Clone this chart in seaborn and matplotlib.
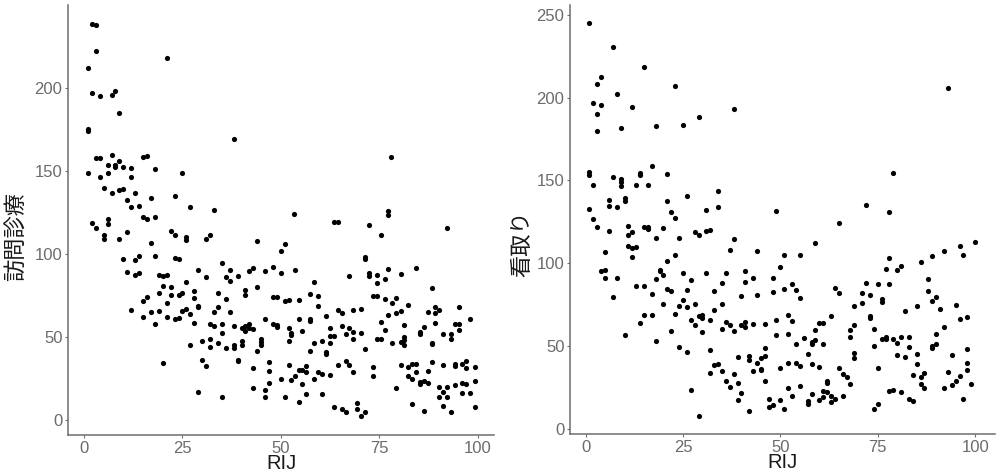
import matplotlib
matplotlib.use("Agg")
import matplotlib.pyplot as plt
import seaborn as sns
import pandas as pd

# left panel: RIJ vs 訪問診療
rij_visit = [
    2, 3, 3, 1, 21, 2, 4, 7, 8, 9, 1, 1, 38, 3, 4, 7, 9, 6, 8, 8, 10, 12, 15, 16, 18, 25, 1, 6, 4, 12,
    5, 7, 9, 10, 11, 13, 17, 23, 12, 14, 27, 33, 15, 16, 18, 2, 6, 6, 3,
    78, 53.4, 63.4, 64.4, 72.3, 77.3, 77.3, 92.2,
    5, 5, 9, 11, 17, 10, 13, 14, 18, 11, 13, 14, 19, 20, 21, 12, 15, 16, 15, 17, 18, 19, 19, 20, 21, 21, 20,
    22, 23, 23, 24, 22, 22, 24, 25, 23, 24, 25, 26, 26, 26, 26, 27, 27, 28, 28, 28, 29, 29, 29, 29, 30, 30,
    31, 32, 31, 31, 32, 32, 32, 33, 33, 34, 34, 34, 35, 35, 35, 35, 36, 36, 36, 37, 37, 37, 38, 38, 38, 39,
    39, 39, 40, 40, 40, 41, 41, 41, 41, 42, 42, 42, 43, 43, 43, 43, 44, 44, 44, 45, 45, 45, 46, 46, 46, 46,
    47, 47, 47, 48, 48, 48, 49, 49, 49, 50, 50, 50, 51, 51, 52, 51, 52, 52, 52,
    75.4, 53.6, 58.5, 54.5, 57.4, 59.5, 59.5, 67.3, 71.3, 71.3, 72.3, 72.3, 74.4, 74.4, 73.4, 74.4, 76.4,
    77.3, 80.4, 84.3, 76.4, 79.3, 78.3, 79.3, 80.4, 77.3, 82.3, 88.3, 87.3, 89.2, 90.2, 89.2, 95.3, 98.1,
    89.2, 86.3, 85.3, 85.3, 81.3, 81.3, 81.3, 80.4, 81.3, 78.3, 74.4, 75.4, 75.4, 76.4, 71.3, 70.3, 68.4,
    64.5, 65.4, 61.4, 65.4, 66.4, 67.3, 68.4, 68.4, 70.3, 62.4, 62.4, 63.5, 62.4, 60.4, 61.4, 61.4, 58.5,
    57.4, 57.4, 57.4, 55.4, 54.5, 52.5, 52.5, 52.5, 53.6, 54.5, 55.4, 56.4, 56.4, 55.4, 54.5, 56.4, 58.5,
    59.5, 60.4, 60.4, 62.4, 64.5, 66.4, 67.3, 68.4, 63.5, 65.4, 66.4, 69.4, 69.4, 70.3, 71.3, 73.4, 73.4,
    79.3, 80.4, 82.3, 82.3, 83.3, 84.3, 83.3, 84.3, 83.3, 85.3, 85.3, 86.3, 87.3, 86.3, 87.3, 88.3, 90.2,
    91.2, 92.2, 90.2, 92.2, 91.2, 91.2, 93.2, 94.2, 94.2, 94.2, 93.2, 93.2, 91.2, 95.3, 94.2, 95.3, 96.1,
    96.1, 96.1, 97.1, 97.1, 97.1, 98.1, 99.2, 99.2, 99.2, 88.3, 88.3,
]
visit = [
    238.6, 237.8, 222.5, 211.9, 218.5, 197.0, 195.4, 196.2, 198.2, 185.3, 175.7, 174.3, 169.7, 158.0,
    158.2, 159.8, 156.4, 154.0, 154.0, 152.8, 152.6, 152.0, 158.4, 159.2, 151.6, 148.8, 149.0, 149.0,
    146.4, 146.4, 139.8, 136.7, 138.7, 139.4, 132.7, 136.7, 133.9, 134.9, 128.3, 129.3, 128.3, 126.7,
    122.3, 121.3, 122.3, 118.9, 121.1, 118.3, 115.5,
    158.4, 124.5, 119.3, 119.3, 117.5, 126.3, 123.7, 115.5,
    111.4, 109.4, 109.0, 113.3, 106.6, 97.0, 96.6, 99.0, 99.2, 89.0, 87.2, 88.4, 87.3, 86.7, 87.7, 66.5,
    71.7, 74.5, 62.4, 65.3, 58.2, 76.9, 65.7, 81.1, 70.3, 62.2, 34.3,
    113.9, 111.8, 97.8, 97.0, 80.5, 75.5, 75.5, 76.5, 61.0, 61.8, 65.5, 66.9, 83.5, 110.4, 108.4, 63.7,
    45.0, 77.9, 73.7, 58.8, 90.5, 68.9, 68.0, 17.0, 47.8, 36.5,
    109.0, 111.6, 86.0, 32.5, 58.2, 48.6, 44.2, 64.9, 56.6, 76.7, 67.9, 46.2, 94.8, 58.0, 52.6, 13.9,
    73.1, 43.2, 86.1, 90.5, 83.9, 65.1, 57.0, 45.0, 43.4, 86.7,
    36.5, 35.7, 55.4, 47.6, 45.4, 78.7, 75.5, 56.6, 54.0, 89.8, 57.8, 55.8, 91.4, 54.8, 31.7, 19.3,
    108.2, 80.5, 41.7, 49.0, 47.2, 45.2, 89.6, 60.7, 18.3, 14.0,
    35.3, 29.7, 22.1, 92.0, 58.2, 74.5, 74.5, 57.6, 56.2, 101.8, 88.4, 24.9, 106.0, 71.7, 72.3, 13.9,
    55.6, 47.4, 33.3,
    111.4, 90.2, 83.5, 72.3, 75.9, 74.7, 68.9, 86.9, 98.2, 97.4, 88.7, 86.7, 87.3, 82.9, 74.7, 74.7,
    84.8, 91.2, 88.1, 91.4, 72.7, 73.7, 70.3, 64.7, 65.9, 63.1, 69.1, 79.9, 65.3, 68.3, 66.3, 64.3,
    68.3, 60.7, 58.6, 56.2, 53.2, 51.8, 57.6, 50.0, 48.2, 46.8, 45.4, 46.6, 49.2, 48.8, 59.2, 54.4,
    42.6, 66.9, 66.3, 66.3, 64.5, 62.8, 56.6, 52.2, 55.6, 53.4, 48.6, 52.8, 55.8, 50.8, 50.6, 46.2,
    47.8, 41.0, 39.6, 46.6, 61.0, 59.6, 41.6, 53.6, 60.8, 52.6, 51.6, 24.1, 26.9, 30.5, 30.5, 32.5,
    28.9, 21.5, 11.0, 15.5, 24.9, 28.9, 27.9, 15.8, 27.3, 33.1, 35.5, 33.1, 28.9, 7.8, 6.6, 4.8, 10.6,
    7.0, 2.8, 5.2, 31.9, 26.5, 19.1, 33.5, 32.1, 26.9, 33.9, 34.1, 24.9, 28.9, 9.6, 22.7, 21.5, 23.7,
    22.3, 5.8, 29.7, 35.1, 19.7, 16.9, 19.7, 13.9, 13.9, 33.1, 8.6, 5.2, 34.1, 32.5, 21.3, 51.8, 49.2,
    51.8, 57.8, 57.8, 54.6, 22.5, 16.1, 34.1, 35.7, 31.3, 21.7, 16.3, 31.9, 23.7, 7.8, 46.4, 45.6,
]

# right panel: RIJ vs 看取り
rij_mitori = [
    1, 7, 15, 4, 3, 23, 8, 2, 4, 12, 38, 3, 29, 9, 18, 25, 3, 17, 1, 1, 2, 7, 9, 9, 9, 14, 14, 13, 16,
    21, 6, 6, 8, 10, 10, 21, 26, 34, 34, 22, 23, 31, 1, 2, 3, 11, 15, 16, 20,
    6, 11, 12, 11, 12, 13, 12, 16, 18, 21, 23, 24, 28, 29, 31, 32, 4, 5, 5, 5, 8, 7, 10, 13, 15, 14, 15,
    17, 17, 18, 18, 19, 19, 20, 20, 21, 22, 22, 23, 24, 24, 25, 25, 26, 26, 26, 27, 27, 27, 28, 28, 29,
    29, 30, 30, 30, 31, 32, 32, 32, 33, 33, 33, 34, 35, 35, 35, 35, 36, 36, 36, 37, 37, 37, 38, 38, 38,
    39, 39, 39, 40, 40, 40, 41, 41, 41, 41, 42, 42, 42, 43, 43, 43, 44, 44, 44, 45, 45, 45, 46, 46, 46,
    46, 47, 47,
    65, 59, 51, 55, 50, 48, 48, 51, 53, 54, 55, 49, 49, 52, 53, 52, 54, 56, 58, 58, 59, 59, 60, 61, 61,
    63, 64, 65, 57, 58, 60, 50, 52, 54, 55, 52, 53, 55, 48, 50, 51, 57, 57, 58, 60, 61, 61, 62, 62, 62,
    63, 63, 64, 65, 66, 67, 66, 68, 68, 68, 69, 69, 69, 69, 71, 71, 72, 73, 73, 73, 74, 74, 75, 75, 74,
    75, 76, 76, 76, 77, 77, 77, 78, 78, 78, 79, 79, 80, 81, 80, 80, 81, 81, 82, 82, 83, 83, 83, 84, 85,
    85, 85, 84, 86, 86, 86, 87, 87, 88, 88, 89, 89, 90, 89, 89, 90, 90, 91, 92, 92, 92, 93, 94, 94, 95,
    95, 96, 96, 96, 97, 97, 98, 98, 98, 98, 99, 100,
    93, 79, 49, 72, 78,
]
mitori = [
    244.7, 230.3, 218.2, 212.6, 207.9, 206.7, 201.9, 196.6, 195.6, 194.6, 193.4, 190.2, 188.4, 181.8,
    183.0, 183.2, 179.7, 158.6, 155.4, 153.1, 147.1, 151.9, 150.7, 148.9, 146.7, 154.6, 153.1, 147.1,
    147.1, 153.7, 138.5, 134.4, 134.0, 139.7, 137.9, 137.5, 140.5, 143.7, 134.0, 130.8, 127.6, 132.2,
    132.6, 126.8, 122.0, 122.6, 122.2, 122.2, 121.6,
    119.3, 116.9, 119.1, 110.7, 109.5, 109.7, 103.6, 120.8, 115.3, 101.6, 105.2, 115.1, 118.7, 117.1,
    119.7, 120.4, 95.2, 96.0, 106.9, 91.4, 91.4, 79.9, 56.9, 86.4, 86.4, 64.2, 69.0, 81.3, 68.6, 90.8,
    52.9, 96.2, 95.2, 93.2, 75.5, 84.5, 83.3, 59.5, 69.4, 74.3, 49.5, 94.0, 77.7, 83.7, 73.9, 46.3,
    90.0, 65.8, 23.5, 75.5, 62.6, 68.2, 8.2, 68.8, 66.8, 58.8, 94.2, 65.6, 47.5, 34.0, 83.1, 72.0, 38.6,
    39.2, 87.9, 75.8, 60.6, 35.0, 94.2, 64.8, 29.0, 108.3, 62.8, 25.7, 114.9, 59.2, 33.4, 43.7, 27.8,
    17.5, 80.5, 62.8, 21.9, 95.4, 88.8, 64.8, 61.8, 44.3, 41.7, 11.2, 90.9, 63.6, 35.0, 107.7, 80.7,
    39.9, 36.2, 35.4, 43.2, 44.3, 48.9, 29.2, 63.2, 18.5, 13.3,
    124.4, 112.3, 104.8, 104.8, 97.8, 91.2, 82.7, 84.5, 87.6, 83.7, 78.9, 65.8, 56.9, 69.0, 65.0, 57.7,
    51.3, 55.1, 52.7, 51.5, 53.7, 60.1, 63.8, 64.2, 51.3, 68.2, 85.1, 82.1, 45.3, 39.3, 37.6, 37.0,
    39.9, 39.9, 38.4, 25.1, 20.3, 26.3, 14.3, 17.5, 12.4, 16.7, 15.3, 21.1, 17.5, 23.3, 19.7, 29.2,
    28.1, 22.3, 19.9, 16.3, 18.3, 37.0, 33.0, 31.4, 19.9, 27.2, 60.0, 55.6, 62.8, 74.5, 45.7, 43.1,
    76.3, 82.3, 87.9, 81.1, 68.2, 66.8, 60.6, 49.9, 87.6, 36.6, 12.4, 15.3, 78.7, 76.5, 54.5, 55.5,
    54.5, 96.6, 103.0, 87.6, 23.3, 23.7, 54.5, 96.0, 98.6, 51.7, 44.7, 55.3, 22.7, 71.3, 43.5, 55.3,
    49.5, 17.9, 16.7, 74.5, 45.3, 39.6, 32.6, 100.8, 31.4, 27.2, 33.8, 24.9, 90.6, 83.1, 104.2, 77.3,
    79.5, 49.9, 48.9, 51.5, 57.7, 72.5, 107.7, 61.8, 24.8, 34.2, 45.0, 26.8, 74.9, 29.0, 32.2, 110.7,
    66.6, 104.8, 18.5, 67.4, 48.1, 39.9, 35.4, 27.2, 112.9,
    205.9, 154.6, 131.8, 135.3, 130.8,
]

df_visit = pd.DataFrame({"RIJ": rij_visit, "訪問診療": visit})
df_mitori = pd.DataFrame({"RIJ": rij_mitori, "看取り": mitori})

sns.set_style("white")
plt.rcParams["font.family"] = ["Liberation Sans", "Noto Sans CJK JP", "DejaVu Sans"]

fig = plt.figure(figsize=(10, 4.75), dpi=100)
ax1 = fig.add_axes([0.068, 0.084, 0.426, 0.905])
ax2 = fig.add_axes([0.570, 0.086, 0.425, 0.904])

sns.scatterplot(data=df_visit, x="RIJ", y="訪問診療", ax=ax1, color="black", s=14, linewidth=0)
sns.scatterplot(data=df_mitori, x="RIJ", y="看取り", ax=ax2, color="black", s=14, linewidth=0)

ax1.set_xlim(-4.06, 104.1)
ax1.set_ylim(-9, 250)
ax1.set_yticks([0, 50, 100, 150, 200])
ax2.set_xlim(-4.0, 105.1)
ax2.set_ylim(-3, 256)
ax2.set_yticks([0, 50, 100, 150, 200, 250])

for ax, ycoord, xcoord in [(ax1, 0.463, -0.094), (ax2, 0.443, -0.087)]:
    ax.set_xticks([0, 25, 50, 75, 100])
    sns.despine(ax=ax)
    for side in ["left", "bottom"]:
        ax.spines[side].set_color("#6e6e6e")
        ax.spines[side].set_linewidth(1.1)
    ax.tick_params(axis="both", which="major", bottom=True, left=True, length=2.5, width=0.8,
                   color="#6e6e6e", labelsize=12, labelcolor="#6b6b6b", pad=1.5, direction="out")
    ax.xaxis.label.set_size(14.5)
    ax.yaxis.label.set_size(16)
    ax.xaxis.label.set_color("#1a1a1a")
    ax.yaxis.label.set_color("#1a1a1a")
    ax.xaxis.set_label_coords(0.5, -0.044)
    ax.xaxis.label.set_verticalalignment("top")
    ax.yaxis.set_label_coords(xcoord, ycoord)

fig.savefig("out.png", dpi=100, facecolor="white")
